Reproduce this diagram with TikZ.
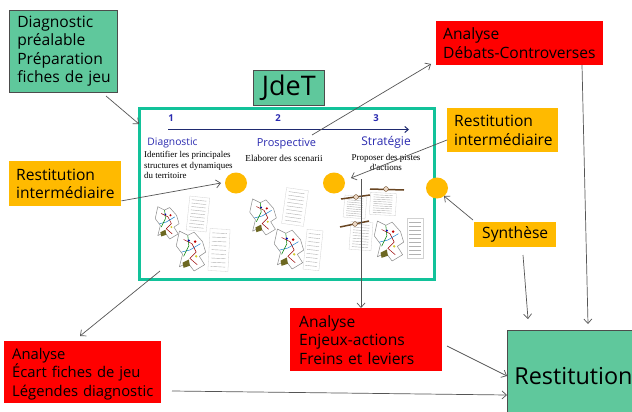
\documentclass[tikz,border=0pt]{standalone}
\usepackage{fontspec}
\setmainfont{Open Sans}
\newfontfamily\descfont{Liberation Serif}
\usetikzlibrary{arrows.meta,shapes.geometric}
\definecolor{boxgreen}{HTML}{5FC89C}
\definecolor{frameteal}{HTML}{12C29A}
\definecolor{boxorange}{HTML}{FFBA00}
\definecolor{titleblue}{HTML}{2A2AB0}
\definecolor{navyline}{HTML}{1F2A70}
\definecolor{connline}{HTML}{555555}
\tikzset{
  box/.style={anchor=north west,inner xsep=0pt,inner ysep=0pt,align=left,font=\fontsize{15.6}{18.5}\selectfont},
  greenbox/.style={box,fill=boxgreen,draw=black!70,line width=.7pt},
  redbox/.style={box,fill=red},
  orangebox/.style={box,fill=boxorange},
  conn/.style={draw=connline,line width=.7pt,-{Straight Barb[length=4.5pt,width=8pt]}},
  dot/.style={ellipse,fill=boxorange,minimum width=22pt,minimum height=21pt,inner sep=0pt},
  steptitle/.style={text=titleblue,font=\fontsize{#1}{12}\selectfont},
  stepnum/.style={text=titleblue,font=\bfseries\fontsize{9.5}{11}\selectfont},
  desc/.style={font=\descfont\fontsize{#1}{10.6}\selectfont,align=left,inner sep=0pt},
  sheet/.style={draw=black!18,line width=.3pt},
  sheetline/.style={draw=black!30,line width=.4pt},
  mapline/.style={line width=.5pt,line join=round},
  barline/.style={draw=brown!55!black,line width=1.5pt},
  barmark/.style={fill=brown!30,draw=brown!55!black,line width=.4pt}
}
% a legend sheet with lines of text, origin at its centre
\newcommand{\legendsheet}[5]{%
  \begin{scope}[shift={(#1,#2)},rotate=#5]
    \fill[white] (-#3,-#4) rectangle (#3,#4);
    \draw[sheet] (-#3,-#4) rectangle (#3,#4);
    \foreach \yy in {-.8,-.6,-.4,-.2,0,.2,.4,.6,.8}
      \draw[sheetline] (-.75*#3,\yy*#4) -- (.7*#3,\yy*#4);
  \end{scope}}
% a small territory map
\newcommand{\smallmap}[3]{%
  \begin{scope}[shift={(#1,#2)},scale=#3]
    \draw[mapline,black!45] (-12,-18) -- (-4,-14) -- (2,-17) -- (10,-8) -- (13,2) -- (7,6) -- (12,14) -- (2,20) -- (-4,12) -- (-12,16) -- (-9,4) -- (-15,-4) -- cycle;
    \draw[mapline,red!60!black] (-8,-10) -- (0,-6) -- (4,2) -- (-2,8) -- (5,14);
    \draw[mapline,cyan!60!blue] (-10,2) -- (-2,0) -- (8,-6);
    \draw[mapline,green!50!black] (-4,-14) -- (-3,-4) -- (-8,6);
    \fill[olive!70!black] (-9,12) -- (-3,9) -- (-2,15) -- (-8,17) -- cycle;
    \fill[red!75!black] (3,-8) circle (1.3);
    \fill[yellow!80!black] (4,6) circle (1.2);
    \fill[blue!70!black] (-3,-9) circle (1.1);
  \end{scope}}
\begin{document}
\begin{tikzpicture}[x=1pt,y=-1pt]
\useasboundingbox (0,0) rectangle (632,412);
\fill[white] (0,0) rectangle (632,412);

% frame
\node[draw=frameteal,line width=3.4pt,fill=white,anchor=north west,minimum width=295pt,minimum height=171pt,inner sep=0pt] (frame) at (137.5,107) {};
\node[greenbox,minimum width=71pt,minimum height=35pt,align=center,inner sep=0pt,font=\fontsize{27}{30}\selectfont] (jdet) at (253,70) {JdeT};

% step header
\node[stepnum] (n1) at (171,118) {1};
\node[stepnum] (n2) at (278,118) {2};
\node[stepnum] (n3) at (376,118) {3};
\coordinate (axisA) at (168,129.5);
\coordinate (axisB) at (409,129.5);
\draw[navyline,line width=1pt,-{Straight Barb[length=3.5pt,width=6pt]}] (axisA) -- (axisB);
\node[steptitle=10.3] (t1) at (172.5,143) {Diagnostic};
\node[steptitle=11] (t2) at (286.5,144) {Prospective};
\node[steptitle=12] (t3) at (386,142.5) {Stratégie};
\node[desc=8.9,anchor=north west] (d1) at (144,151) {Identifier les principales\\structures et dynamiques\\du territoire};
\node[desc=9.2,anchor=center] (d2) at (284,158) {Elaborer des scenarii};
\node[desc=9,anchor=center,align=center] (d3) at (386,162.5) {Proposer des pistes\\d'actions};

% thumbnails, group 1
\smallmap{168}{222}{.85}
\legendsheet{198}{214}{10}{17}{-6}
\smallmap{192}{250}{1.05}
\legendsheet{219}{250}{10}{21}{-3}
% group 2
\smallmap{264}{216}{.95}
\legendsheet{295}{207}{11}{18}{-8}
\smallmap{290}{248}{1.05}
\legendsheet{313}{250}{8}{20}{-6}
% group 3
\legendsheet{355}{207}{11}{11}{-5}
\legendsheet{383}{204}{13}{11}{-3}
\legendsheet{361}{236}{11}{14}{-4}
\smallmap{390}{240}{1.05}
\legendsheet{415}{238}{8}{20}{0}
\draw[barline] (341,199) -- (370,195);
\fill[barmark] (356,197) circle (2.4);
\draw[barline] (370,189) -- (404,190);
\fill[barmark] (386,189) circle (2.4);
\draw[barline] (340,227) -- (369,221);
\fill[barmark] (355,224) circle (2.4);

% dots
\node[dot] (c1) at (236,183) {};
\node[dot] (c2) at (334,183) {};
\node[dot] (c3) at (437,188) {};

% boxes
\node[greenbox,minimum width=108pt,minimum height=82pt,text width=100pt,inner xsep=4pt] (prep) at (9,10) {\hspace{4pt}Diagnostic\\\hspace{4pt}préalable\\\hspace{4pt}Préparation\\\hspace{4pt}fiches de jeu};
\node[redbox,minimum width=167pt,minimum height=44pt,text width=159pt,inner xsep=4pt] (debats) at (436,21) {\hspace{3pt}Analyse\\\hspace{3pt}Débats-Controverses};
\node[orangebox,minimum width=111pt,minimum height=44pt,text width=103pt,inner xsep=4pt] (resR) at (447,108) {\hspace{3pt}Restitution\\\hspace{3pt}intermédiaire};
\node[orangebox,minimum width=112pt,minimum height=45pt,text width=104pt,inner xsep=4pt] (resL) at (9,161) {\hspace{3pt}Restitution\\\hspace{3pt}intermédiaire};
\node[orangebox,minimum width=82pt,minimum height=25pt,align=center] (synth) at (474,222) {Synthèse};
\node[redbox,minimum width=152pt,minimum height=63pt,text width=142pt,inner xsep=5pt] (enjeux) at (290,308) {\hspace{4pt}Analyse\\\hspace{4pt}Enjeux-actions\\\hspace{4pt}Freins et leviers};
\node[redbox,minimum width=157pt,minimum height=62pt,text width=153pt,inner xsep=2pt,font=\fontsize{14.8}{18.5}\selectfont] (ecart) at (4,341) {\rule{0pt}{15pt}\hspace{6pt}Analyse\\\hspace{6pt}Écart fiches de jeu\\\hspace{6pt}Légendes diagnostic};
\node[greenbox,minimum width=140pt,minimum height=96pt,text width=136pt,inner xsep=2pt,font=\fontsize{23.4}{26}\selectfont] (rest) at (507,330) {\hspace{5pt}\raisebox{4pt}{Restitution}};

% free ends of connectors
\coordinate (prepEnd) at (106,96);
\coordinate (frameIn) at (139,124);
\coordinate (debFrom) at (312,135);
\coordinate (debTo) at (431,64);
\coordinate (resRFrom) at (447,140);
\coordinate (c2To) at (351,178);
\coordinate (resLTo) at (221,183);
\coordinate (synthFrom) at (473,220);
\coordinate (c3To) at (444,196);
\coordinate (synthDown) at (523,255);
\coordinate (synthTo) at (528,319);
\coordinate (debDown) at (582,65);
\coordinate (debDownTo) at (588,324);
\coordinate (vTop) at (361,179);
\coordinate (vBot) at (361,308);
\coordinate (enjFrom) at (447,346);
\coordinate (enjTo) at (507,376);
\coordinate (ecFrom) at (172,391);
\coordinate (ecTo) at (507,395);
\coordinate (frFrom) at (160,271);
\coordinate (frTo) at (80,336);

% connectors
\draw[conn] (prepEnd) -- (frameIn);
\draw[conn] (debFrom) -- (debTo);
\draw[conn] (resRFrom) -- (c2To);
\draw[conn] (resL.-17) -- (resLTo);
\draw[conn] (synthFrom) -- (c3To);
\draw[conn] (synthDown) -- (synthTo);
\draw[conn] (debDown) -- (debDownTo);
\draw[conn] (vTop) -- (vBot);
\draw[conn] (enjFrom) -- (enjTo);
\draw[conn] (ecFrom) -- (ecTo);
\draw[conn] (frFrom) -- (frTo);
\end{tikzpicture}
\end{document}
